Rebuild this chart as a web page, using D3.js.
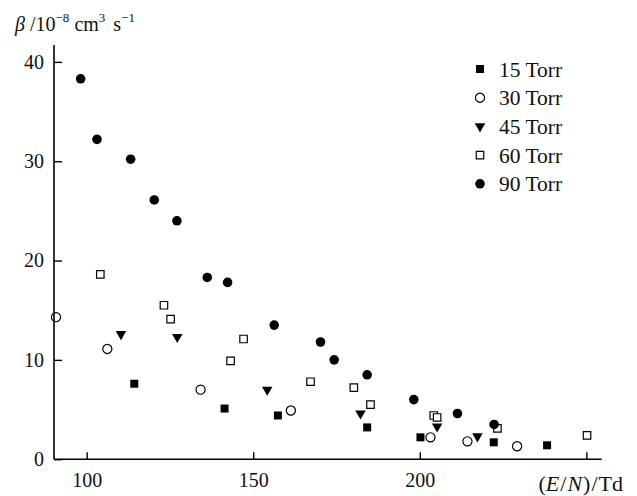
<!DOCTYPE html>
<html>
<head>
<meta charset="utf-8">
<script src="https://cdn.jsdelivr.net/npm/d3@7"></script>
<style>
  body { margin: 0; background: #fff; }
  svg text { font-family: "Liberation Serif", "Times New Roman", serif; fill: #111; }
</style>
</head>
<body>
<svg id="chart" width="637" height="496"></svg>
<script>
// series values (E/N in Td, beta in 1e-8 cm3/s)
const torr15 = [[114.3, 7.6], [141.4, 5.1], [157.4, 4.4], [184.2, 3.2], [200.2, 2.2], [222.2, 1.7], [238.2, 1.4]];
const torr30 = [[90.8, 14.3], [106.2, 11.1], [134.2, 7.0], [161.3, 4.9], [203.2, 2.2], [214.3, 1.8], [229.2, 1.3]];
const torr45 = [[110.3, 12.6], [127.2, 12.3], [154.2, 7.0], [182.2, 4.6], [205.2, 3.3], [217.3, 2.3]];
const torr60 = [[104.1, 18.6], [123.2, 15.5], [125.2, 14.1], [143.2, 9.9], [147.1, 12.1], [167.2, 7.8],
                [180.2, 7.2], [185.2, 5.5], [204.2, 4.4], [205.2, 4.2], [223.3, 3.1], [250.2, 2.4]];
const torr90 = [[98.2, 38.3], [103.1, 32.2], [113.2, 30.2], [120.3, 26.1], [127.1, 24.0], [136.2, 18.3],
                [142.3, 17.8], [156.3, 13.5], [170.2, 11.8], [174.3, 10.0], [184.2, 8.5], [198.2, 6.0],
                [211.3, 4.6], [222.3, 3.5]];

const seriesNames = ["15 Torr", "30 Torr", "45 Torr", "60 Torr", "90 Torr"];
const xTicks = [100, 150, 200, 250];
const xTickLabels = ["100", "150", "200", ""];
const yTicks = [0, 10, 20, 30, 40];

const svg = d3.select("#chart");

const x = d3.scaleLinear().domain([90.2, 254.6]).range([54, 601.7]);
const y = d3.scaleLinear().domain([0, 41.7]).range([459.2, 45]);

// marker styles per series
const markers = [
    { shape: d3.symbolSquare, size: 64, fill: "#000", stroke: "none", rot: 0 },
    { shape: d3.symbolCircle, size: 66, fill: "#fff", stroke: "#000", rot: 0 },
    { shape: d3.symbolTriangle, size: 48, fill: "#000", stroke: "none", rot: 180 },
    { shape: d3.symbolSquare, size: 56, fill: "#fff", stroke: "#000", rot: 0 },
    { shape: d3.symbolCircle, size: 72, fill: "#000", stroke: "none", rot: 0 }
];
const allSeries = [torr15, torr30, torr45, torr60, torr90];

// points first, so the axis lines sit on top
allSeries.forEach((data, i) => {
    const m = markers[i];
    svg.append("g").selectAll("path")
        .data(data)
        .join("path")
        .attr("d", d3.symbol().type(m.shape).size(m.size))
        .attr("transform", d => `translate(${x(d[0])},${y(d[1])}) rotate(${m.rot})`)
        .attr("fill", m.fill)
        .attr("stroke", m.stroke)
        .attr("stroke-width", 1.2);
});

// axes
const xAxis = d3.axisBottom(x).tickValues(xTicks).tickSize(-7)
    .tickFormat((d, i) => xTickLabels[i]).tickPadding(14);
const yAxis = d3.axisLeft(y).tickValues(yTicks).tickSize(-8).tickPadding(10);

const gx = svg.append("g").attr("transform", `translate(0,${y(0)})`).call(xAxis);
const gy = svg.append("g").attr("transform", `translate(${x(90.2)},0)`).call(yAxis);

[gx, gy].forEach(g => {
    g.select(".domain").attr("stroke", "#000").attr("stroke-width", 1.6);
    g.selectAll(".tick line").attr("stroke", "#000").attr("stroke-width", 1.4);
    g.selectAll(".tick text").attr("font-size", 20).attr("fill", "#111");
});
gy.select(".domain").attr("d", `M0,${y(0)}V${y(41.7)}`);
gx.select(".domain").attr("d", `M${x(90.2)},0H${x(254.6)}`);
gx.selectAll(".tick text").attr("dy", "0.71em");

// legend
const legend = svg.append("g").attr("transform", "translate(480,69)");
seriesNames.forEach((name, i) => {
    const m = markers[i];
    const row = legend.append("g").attr("transform", `translate(0,${i * 28.7})`);
    row.append("path")
        .attr("d", d3.symbol().type(m.shape).size(m.size))
        .attr("transform", `rotate(${m.rot})`)
        .attr("fill", m.fill)
        .attr("stroke", m.stroke)
        .attr("stroke-width", 1.2);
    row.append("text").attr("x", 19).attr("dy", "0.35em")
        .attr("font-size", 21.5).text(name);
});

// axis titles
const yt = svg.append("text").attr("x", 15).attr("y", 31).attr("font-size", 20);
yt.append("tspan").attr("font-style", "italic").text("β");
yt.append("tspan").text(" /10");
yt.append("tspan").attr("dy", -9).attr("font-size", 13).text("−8");
yt.append("tspan").attr("dy", 9).text(" cm");
yt.append("tspan").attr("dy", -9).attr("font-size", 13).text("3");
yt.append("tspan").attr("dy", 9).attr("dx", 3).text(" s");
yt.append("tspan").attr("dy", -9).attr("font-size", 13).text("−1");

const xt = svg.append("text").attr("x", 623).attr("y", 491)
    .attr("text-anchor", "end").attr("font-size", 22);
xt.append("tspan").text("(");
xt.append("tspan").attr("font-style", "italic").text("E");
xt.append("tspan").attr("dx", 1).text("/");
xt.append("tspan").attr("dx", 1).attr("font-style", "italic").text("N");
xt.append("tspan").attr("dx", 1).text(")");
xt.append("tspan").attr("dx", 1).text("/");
xt.append("tspan").attr("dx", 1).text("Td");
</script>
</body>
</html>
